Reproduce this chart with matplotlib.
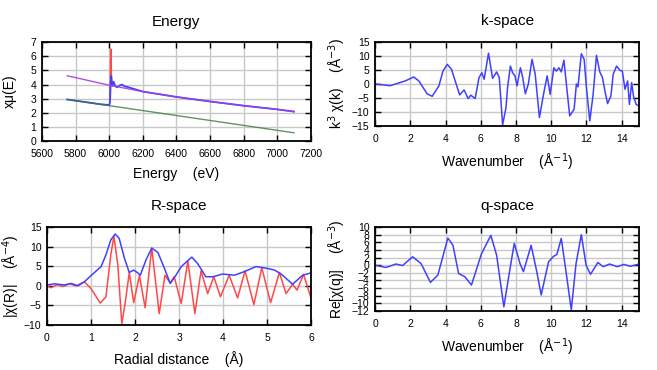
import matplotlib.pyplot as plt
import numpy as np

plt.rcParams["font.family"] = ["Liberation Sans", "DejaVu Sans"]

# Energy panel
e_bkg = [5750, 6000, 6200, 6400, 6600, 6800, 7000, 7100]
mu_post = [4.62, 3.95, 3.5, 3.12, 2.8, 2.5, 2.24, 2.08]
e_pre = [5750, 7100]
mu_pre = [2.94, 0.58]
e_data = [5750, 5850, 5950, 6000, 6004, 6008, 6012, 6016, 6020, 6026, 6034, 6045,
          6060, 6075, 6090, 6110, 6200, 6400, 6600, 6800, 7000, 7100]
mu_data = [2.94, 2.77, 2.6, 2.55, 2.7, 4.1, 4.6, 4.1, 4.0, 4.2, 3.95, 3.8,
           3.92, 4.0, 3.88, 3.82, 3.5, 3.12, 2.8, 2.5, 2.24, 2.08]
e_edge = [6006, 6009, 6011, 6013, 6016, 6020]
mu_edge = [3.0, 6.5, 6.0, 4.2, 3.95, 3.9]

# k-space
k = [0, 0.86, 1.71, 2.19, 2.48, 2.95, 3.24, 3.62, 3.85, 4.1, 4.34, 4.6, 4.8, 5.05, 5.28,
     5.43, 5.68, 5.9, 6.06, 6.19, 6.44, 6.67, 6.9, 7.05, 7.24, 7.43, 7.52, 7.68, 7.81,
     7.94, 8.06, 8.25, 8.38, 8.53, 8.7, 8.91, 9.09, 9.33, 9.58, 9.77, 9.94, 10.15,
     10.29, 10.44, 10.57, 10.72, 10.86, 11.05, 11.3, 11.43, 11.52, 11.71, 11.87, 12.0,
     12.19, 12.38, 12.57, 12.76, 12.91, 13.05, 13.2, 13.39, 13.52, 13.71, 13.9, 14.04,
     14.19, 14.34, 14.44, 14.57, 14.67, 14.82, 15.0]
chik = [0, -0.6, 1.1, 2.5, 1.1, -3.5, -4.4, -0.7, 4.6, 7.0, 5.2, 0, -3.9, -2.1, -5.2,
        -4.0, -5.2, 2.3, 4.0, 1.7, 11.0, 2.0, 4.3, 2.3, -14.6, -8.5, -1.3, 6.4, 4.0,
        2.9, -0.7, 5.8, 2.3, -3.5, 0, 8.8, 3.5, -12.0, -3.1, 2.9, -3.7, 5.8,
        4.6, 5.8, 4.3, 8.5, 0, -11.4, -9.0, 0, -1.0, 10.8, 8.8, -1.3,
        -13.2, -3.7, 10.2, 4.3, 2.3, -2.5, -7.0, -4.3, 3.5, 6.4, 4.9, 4.6,
        -1.9, 1.1, -7.3, 0.5, -4.3, -7.3, -7.9]

# R-space
r_mag = [0, 0.17, 0.39, 0.55, 0.7, 0.85, 1.0, 1.23, 1.34, 1.45, 1.55, 1.64, 1.76, 1.87,
         1.97, 2.05, 2.12, 2.25, 2.38, 2.52, 2.67, 2.8, 2.93, 3.05, 3.29, 3.42, 3.61,
         3.77, 3.99, 4.26, 4.48, 4.75, 5.02, 5.17, 5.32, 5.58, 5.81, 6.0]
chir_mag = [0.2, 0.5, 0.2, 0.6, 0, 1.0, 2.6, 4.9, 7.9, 11.7, 13.2, 12.1, 7.0, 3.4,
            4.0, 3.4, 2.7, 6.6, 9.6, 8.5, 4.4, 0.6, 2.7, 4.9, 7.3, 5.7, 2.3,
            2.3, 3.0, 2.7, 3.6, 4.9, 4.4, 4.0, 3.0, 0.4, 2.7, 3.3]
r_re = [0, 0.09, 0.24, 0.36, 0.51, 0.66, 0.85, 1.0, 1.21, 1.34, 1.45, 1.52, 1.61, 1.7,
        1.78, 1.87, 1.97, 2.1, 2.23, 2.38, 2.55, 2.68, 2.8, 2.89, 3.05, 3.2, 3.36,
        3.5, 3.65, 3.79, 3.94, 4.14, 4.33, 4.5, 4.7, 4.88, 5.08, 5.28, 5.43, 5.58,
        5.68, 5.83, 6.0]
chir_re = [0, -0.5, 0.3, -0.2, 0.5, 0, 1.0, -0.7, -4.4, -2.8, 7.9, 12.6, 5.3, -9.7,
           -4.1, 3.4, -4.3, 2.6, -5.6, 9.6, -7.1, 2.7, 0.7, 2.3, -4.5, 6.3, -7.1,
           3.8, -2.0, 2.3, -2.8, 2.7, -3.1, 3.8, -4.8, 4.6, -4.3, 3.4, -2.0, 0.4,
           -1.1, 2.9, -3.2]

# q-space
q = [0, 0.61, 1.18, 1.56, 2.13, 2.61, 3.14, 3.56, 4.13, 4.42, 4.74, 5.09, 5.47, 6.04,
     6.57, 6.9, 7.31, 7.6, 7.9, 8.23, 8.42, 8.86, 9.18, 9.43, 9.85, 10.13, 10.32,
     10.57, 10.84, 11.14, 11.41, 11.71, 11.98, 12.23, 12.65, 12.95, 13.31, 13.75,
     14.13, 14.5, 15.0]
chiq = [0, -0.6, 0.3, -0.1, 2.2, 0.4, -4.5, -2.6, 7.1, 5.2, -2.2, -3.0, -5.2, 3.0,
        7.8, 2.6, -10.9, -2.6, 5.7, 0.4, -1.7, 5.2, -1.7, -7.8, 0.9, 2.3, 2.8,
        7.0, -1.7, -11.7, 0.4, 8.0, 0, -2.4, 0.7, -0.4, 0.3, -0.4,
        0.2, -0.3, 0.3]

blue = "#4040ff"
red = "#ff4848"

fig = plt.figure(figsize=(6.57, 3.70), dpi=100)


def style(ax, title, xlabel, ylabel, ylabelpad=3):
    ax.set_title(title, fontsize=11, pad=12)
    ax.set_xlabel(xlabel, fontsize=10, labelpad=6)
    ax.set_ylabel(ylabel, fontsize=10, labelpad=ylabelpad)
    ax.grid(True, color="#c8c8c8", linewidth=1)
    ax.set_axisbelow(True)
    ax.tick_params(direction="in", top=True, right=True, labelsize=7.5,
                   length=4, width=1)
    ax.tick_params(axis="x", pad=5.5)
    ax.tick_params(axis="y", pad=4)
    for s in ax.spines.values():
        s.set_linewidth(1.3)


ax1 = fig.add_axes([0.064, 0.619, 0.409, 0.267])
ax1.plot(e_edge, mu_edge, color=red, lw=1.2)
ax1.plot(e_data, mu_data, color=blue, lw=1.3)
ax1.plot(e_pre, mu_pre, color="#3a7a3a", lw=1, alpha=0.8)
ax1.plot(e_bkg, mu_post, color="#a040e0", lw=1, alpha=0.9)
ax1.set_xlim(5600, 7200)
ax1.set_ylim(0, 7)
ax1.set_xticks(np.arange(5600, 7201, 200))
ax1.set_yticks(np.arange(0, 8, 1))
style(ax1, "Energy", "Energy    (eV)", "xμ(E)", ylabelpad=10)

ax2 = fig.add_axes([0.571, 0.6595, 0.402, 0.227])
ax2.plot(k, chik, color=blue, lw=1.1)
ax2.set_xlim(0, 15)
ax2.set_ylim(-15, 15)
ax2.set_xticks(np.arange(0, 15, 2))
ax2.set_yticks(np.arange(-15, 16, 5))
style(ax2, "k-space", "Wavenumber    (Å$^{-1}$)", "k$^3$ χ(k)    (Å$^{-3}$)")

ax3 = fig.add_axes([0.0715, 0.1216, 0.402, 0.265])
ax3.plot(r_re, chir_re, color=red, lw=1.1)
ax3.plot(r_mag, chir_mag, color=blue, lw=1.1)
ax3.set_xlim(0, 6)
ax3.set_ylim(-10, 15)
ax3.set_xticks(np.arange(0, 7, 1))
ax3.set_yticks(np.arange(-10, 16, 5))
style(ax3, "R-space", "Radial distance    (Å)", "|χ(R)|    (Å$^{-4}$)", ylabelpad=1)

ax4 = fig.add_axes([0.571, 0.1595, 0.402, 0.227])
ax4.plot(q, chiq, color=blue, lw=1.1)
ax4.set_xlim(0, 15)
ax4.set_ylim(-12, 10)
ax4.set_xticks(np.arange(0, 15, 2))
ax4.set_yticks(np.arange(-12, 11, 2))
style(ax4, "q-space", "Wavenumber    (Å$^{-1}$)", "Re[χ(q)]    (Å$^{-3}$)")

fig.savefig("out.png", dpi=100)
